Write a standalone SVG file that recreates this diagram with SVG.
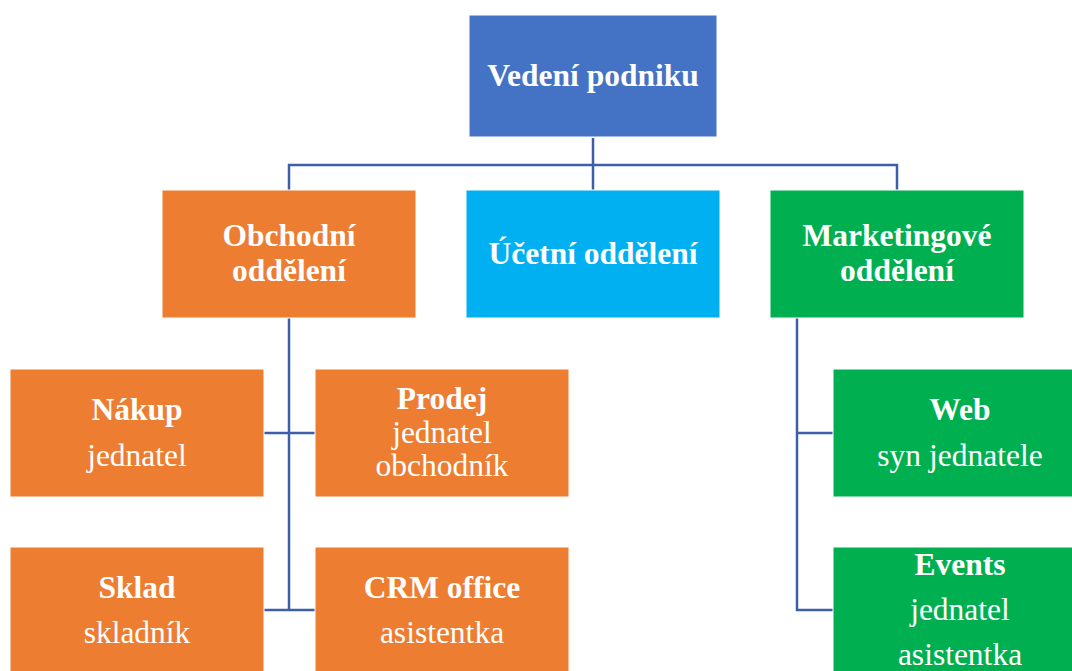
<svg xmlns="http://www.w3.org/2000/svg" width="1072" height="671" viewBox="0 0 1072 671">
  <style>
    .box { stroke: #ffffff; stroke-width: 1; }
    .blue { fill: #4472C4; }
    .orange { fill: #ED7D31; }
    .cyan { fill: #00B0F0; }
    .green { fill: #00B050; }
    .t { font-family: "Liberation Serif", "Times New Roman", serif; font-size: 31.5px; fill: #ffffff; text-anchor: middle; }
    .b { font-weight: bold; }
    .link { fill: none; stroke: #3E5FA8; stroke-width: 2.5; }
  </style>
  <g id="connectors">
    <path class="link" d="M593 138 V165 M289 190 V165 H897 V190 M593 165 V190"/>
    <path class="link" d="M289 318 V610 M263 433 H315 M263 610 H315"/>
    <path class="link" d="M797 318 V610 H833 M797 433 H833"/>
  </g>
  <g id="vedeni">
    <rect class="box blue" x="469" y="15" width="248" height="122"/>
    <text class="t b" x="593" y="86">Vedení podniku</text>
  </g>
  <g id="obchodni">
    <rect class="box orange" x="162" y="190" width="254" height="128"/>
    <text class="t b" x="289" y="246">Obchodní</text>
    <text class="t b" x="289" y="281">oddělení</text>
  </g>
  <g id="ucetni">
    <rect class="box cyan" x="466" y="190" width="254" height="128"/>
    <text class="t b" x="593" y="264">Účetní oddělení</text>
  </g>
  <g id="marketing">
    <rect class="box green" x="770" y="190" width="254" height="128"/>
    <text class="t b" x="897" y="246">Marketingové</text>
    <text class="t b" x="897" y="281">oddělení</text>
  </g>
  <g id="nakup">
    <rect class="box orange" x="10" y="369" width="254" height="128"/>
    <text class="t b" x="137" y="420">Nákup</text>
    <text class="t" x="137" y="466">jednatel</text>
  </g>
  <g id="prodej">
    <rect class="box orange" x="315" y="369" width="254" height="128"/>
    <text class="t b" x="442" y="409">Prodej</text>
    <text class="t" x="442" y="443">jednatel</text>
    <text class="t" x="442" y="476">obchodník</text>
  </g>
  <g id="sklad">
    <rect class="box orange" x="10" y="547" width="254" height="128"/>
    <text class="t b" x="137" y="598">Sklad</text>
    <text class="t" x="137" y="643">skladník</text>
  </g>
  <g id="crm">
    <rect class="box orange" x="315" y="547" width="254" height="128"/>
    <text class="t b" x="442" y="598">CRM office</text>
    <text class="t" x="442" y="643">asistentka</text>
  </g>
  <g id="web">
    <rect class="box green" x="833" y="369" width="254" height="128"/>
    <text class="t b" x="960" y="420">Web</text>
    <text class="t" x="960" y="466">syn jednatele</text>
  </g>
  <g id="events">
    <rect class="box green" x="833" y="547" width="254" height="128"/>
    <text class="t b" x="960" y="575">Events</text>
    <text class="t" x="960" y="620">jednatel</text>
    <text class="t" x="960" y="665">asistentka</text>
  </g>
</svg>
